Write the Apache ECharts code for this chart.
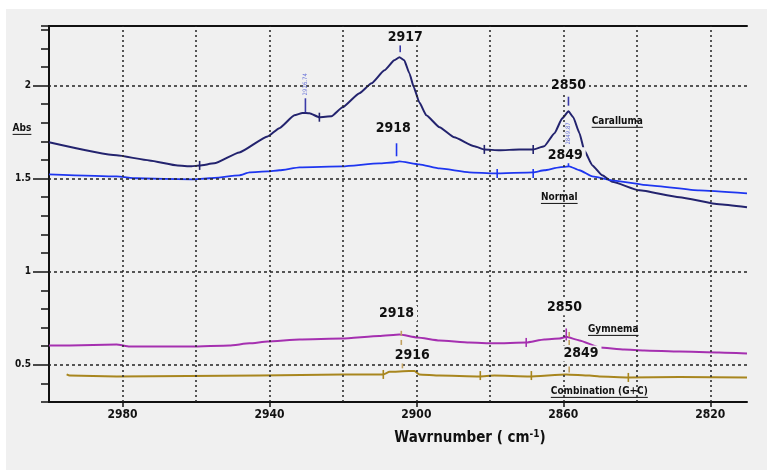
<!DOCTYPE html>
<html>
<head>
<meta charset="utf-8">
<script src="https://cdn.jsdelivr.net/npm/echarts@6/dist/echarts.min.js"></script>
<style>
html, body { margin: 0; padding: 0; background: #f0f0f0; }
#chart { width: 767px; height: 470px; }
</style>
</head>
<body>
<div id="chart"></div>
<script>
// wavenumber (cm-1), absorbance
var caralluma = [
    [3000, 1.695], [2981.6, 1.625], [2972.7, 1.598], [2965.0, 1.571], [2961.2, 1.566],
    [2959.0, 1.571], [2955.0, 1.582], [2948.2, 1.641], [2940.5, 1.727], [2937.3, 1.771],
    [2933.2, 1.840], [2931.0, 1.853], [2929.1, 1.851], [2926.4, 1.830], [2923.1, 1.835],
    [2920.1, 1.883], [2915.5, 1.959], [2912.2, 2.012], [2908.7, 2.082], [2906.0, 2.136],
    [2904.6, 2.152], [2903.3, 2.136], [2901.9, 2.066], [2900.7, 1.991], [2899.2, 1.910],
    [2897.3, 1.840], [2893.7, 1.776], [2889.7, 1.722], [2884.2, 1.674], [2881.5, 1.657],
    [2877.4, 1.652], [2872.0, 1.657], [2868.2, 1.657], [2865.2, 1.674], [2862.4, 1.744],
    [2860.3, 1.824], [2858.6, 1.862], [2857.3, 1.830], [2855.6, 1.744], [2854.3, 1.652],
    [2852.1, 1.571], [2849.4, 1.518], [2846.7, 1.483], [2839.3, 1.437], [2828.4, 1.400],
    [2817.6, 1.362], [2810, 1.346]
];
var normal = [
    [3000, 1.523], [2981.6, 1.512], [2976.2, 1.502], [2961.2, 1.496], [2956.3, 1.502],
    [2948.2, 1.518], [2945.4, 1.534], [2940.5, 1.539], [2937.3, 1.545], [2931.8, 1.561],
    [2920.1, 1.566], [2910.1, 1.582], [2906.0, 1.588], [2904.6, 1.593], [2899.2, 1.577],
    [2893.7, 1.555], [2885.6, 1.534], [2878.8, 1.528], [2868.2, 1.534], [2865.2, 1.545],
    [2861.1, 1.561], [2858.4, 1.566], [2855.6, 1.545], [2852.1, 1.512], [2846.7, 1.491],
    [2836.6, 1.464], [2823.0, 1.437], [2810, 1.421]
];
var gymnema = [
    [3000, 0.604], [2994.4, 0.604], [2981.6, 0.609], [2978.1, 0.598], [2961.2, 0.598],
    [2950.9, 0.604], [2945.4, 0.615], [2940.5, 0.625], [2931.8, 0.636], [2920.1, 0.641],
    [2910.1, 0.655], [2904.6, 0.663], [2899.7, 0.647], [2893.7, 0.631], [2885.6, 0.620],
    [2878.8, 0.615], [2870.1, 0.620], [2865.2, 0.636], [2861.1, 0.641], [2859.2, 0.650],
    [2855.6, 0.631], [2850.2, 0.593], [2843.4, 0.582], [2838.0, 0.577], [2828.4, 0.571],
    [2817.6, 0.566], [2810, 0.561]
];
var combination = [
    [2995.2, 0.448], [2994.4, 0.442], [2981.6, 0.437], [2942.7, 0.442], [2920.1, 0.448],
    [2909.0, 0.448], [2907.3, 0.462], [2902.0, 0.467], [2900.5, 0.467], [2899.2, 0.448],
    [2893.7, 0.442], [2882.9, 0.437], [2878.8, 0.442], [2869.3, 0.437], [2859.2, 0.448],
    [2852.9, 0.442], [2850.2, 0.437], [2842.3, 0.432], [2828.4, 0.434], [2810, 0.432]
];

// peak-pick markers sitting on each curve
var carallumaPicks = [[2959.0, 1.571], [2926.4, 1.830], [2881.5, 1.657], [2868.2, 1.657]];
var normalPicks = [[2878.0, 1.528], [2868.2, 1.528]];
var gymnemaPicks = [[2870.1, 0.620]];
var combinationPicks = [[2909.0, 0.448], [2882.6, 0.442], [2868.7, 0.442], [2842.3, 0.432]];

// leader ticks above peaks: [wavenumber, abs, length]
var carallumaLeaders = [[2904.4, 2.198, 7], [2858.6, 1.916, 9], [2930.2, 1.894, 14]];
var normalLeaders = [[2905.4, 1.655, 13], [2858.6, 1.582, 6]];
var gymnemaLeaders = [[2859.2, 0.663, 12]];
var combinationLeaders = [[2903.8, 0.497, 6], [2858.4, 0.475, 6], [2904.1, 0.669, 5], [2904.1, 0.620, 5], [2858.4, 0.663, 5], [2858.4, 0.620, 5]];

// peak wavenumber labels
var peakLabels = ['2917', '2918', '2850', '2849', '2918', '2916', '2850', '2849'];
var peakLabelAt = [
    [2903.0, 2.260], [2906.3, 1.771], [2858.6, 2.002], [2859.5, 1.626],
    [2905.4, 0.776], [2901.1, 0.550], [2859.7, 0.809], [2855.2, 0.561]
];
var smallLabels = ['2926.74', '2849.87'];
var smallLabelAt = [[2930.2, 2.007], [2858.6, 1.743]];

var seriesNames = ['Caralluma', 'Normal', 'Gymnema', 'Combination (G+C)'];
var seriesNameAt = [[2845.3, 1.808], [2861.1, 1.399], [2846.4, 0.690], [2850.2, 0.357]];

var xTickLabels = [2980, 2940, 2900, 2860, 2820];
var xGridLines = [2980, 2960, 2940, 2920, 2900, 2880, 2860, 2840, 2820];
var yTickLabels = [0.5, 1, 1.5, 2];

var FONT = '"DejaVu Sans Condensed", "Liberation Sans Narrow", "DejaVu Sans", sans-serif';
var INK = '#111';
var COLORS = ['#23236e', '#1e36f0', '#a530b0', '#a8861e'];

var chart = echarts.init(document.getElementById('chart'));

function pickMarks(points, color) {
    return points.map(function (p) {
        return { coord: [p[0], p[1]], symbol: 'rect', symbolSize: [1.6, 9], itemStyle: { color: color } };
    });
}
function leaderMarks(points, color) {
    return points.map(function (p) {
        return { coord: [p[0], p[1]], symbol: 'rect', symbolSize: [1.6, p[2]], itemStyle: { color: color } };
    });
}

function curve(name, data, color, width, marks) {
    return {
        name: name,
        type: 'line',
        data: data,
        symbol: 'none',
        smooth: 0.15,
        smoothMonotone: 'x',
        z: 3,
        lineStyle: { color: color, width: width, join: 'round' },
        itemStyle: { color: color },
        markPoint: { silent: true, animation: false, label: { show: false }, data: marks }
    };
}

var textMarks = peakLabels.map(function (t, i) {
    return {
        coord: peakLabelAt[i], symbol: 'rect', symbolSize: 1, itemStyle: { color: 'rgba(0,0,0,0)' },
        label: {
            show: true, position: 'inside', formatter: t, color: INK, fontFamily: FONT,
            fontWeight: 'bold', fontSize: 14, backgroundColor: '#f0f0f0', padding: [1, 3]
        }
    };
}).concat(smallLabels.map(function (t, i) {
    return {
        coord: smallLabelAt[i], symbol: 'rect', symbolSize: 1, itemStyle: { color: 'rgba(0,0,0,0)' },
        label: {
            show: true, position: 'inside', formatter: t, rotate: 90, color: '#6a74d8',
            fontFamily: FONT, fontSize: 6
        }
    };
}));

var gridMarks = xGridLines.map(function (v) {
    return { xAxis: v, lineStyle: { type: [2, 3] } };
}).concat(yTickLabels.map(function (v) {
    return { yAxis: v, lineStyle: { type: [3, 3] } };
}));

function plain(v) { return String(v); }

var option = {
    backgroundColor: '#f0f0f0',
    animation: false,
    grid: { left: 49, top: 26, width: 698, height: 376 },
    xAxis: [{
        type: 'value', min: 2810, max: 3000, inverse: true, position: 'bottom',
        axisLine: { show: true, onZero: false, lineStyle: { color: INK, width: 2 } },
        axisTick: { show: true, customValues: xTickLabels, length: 5, lineStyle: { color: INK, width: 1.5 } },
        axisLabel: { show: true, customValues: xTickLabels, formatter: plain, color: INK, fontFamily: FONT, fontWeight: 'bold', fontSize: 12, margin: 7 },
        splitLine: { show: false },
        name: 'Wavrnumber ( cm{sup|-1})',
        nameLocation: 'middle',
        nameGap: 27,
        nameTextStyle: {
            color: INK, fontFamily: FONT, fontWeight: 'bold', fontSize: 15, padding: [0, 0, 0, 144],
            rich: { sup: { fontSize: 10, fontWeight: 'bold', fontFamily: FONT, color: INK, verticalAlign: 'top', padding: [0, 0, 8, 0] } }
        }
    }, {
        type: 'value', min: 2810, max: 3000, inverse: true, position: 'top',
        axisLine: { show: true, onZero: false, lineStyle: { color: INK, width: 2 } },
        axisTick: { show: false }, axisLabel: { show: false }, splitLine: { show: false }
    }],
    yAxis: [{
        type: 'value', min: 0.3, max: 2.32, interval: 0.1, position: 'left',
        axisLine: { show: true, onZero: false, lineStyle: { color: INK, width: 2 } },
        axisTick: { show: true, length: 8, lineStyle: { color: INK, width: 1.5 } },
        axisLabel: { show: false },
        splitLine: { show: false }
    }, {
        type: 'value', min: 0.3, max: 2.32, position: 'left',
        axisLine: { show: false },
        axisTick: { show: true, customValues: yTickLabels, length: 16, lineStyle: { color: INK, width: 1.5 } },
        axisLabel: { show: true, customValues: yTickLabels, formatter: plain, margin: 18, color: INK, fontFamily: FONT, fontWeight: 'bold', fontSize: 10 },
        splitLine: { show: false }
    }],
    series: [
        {
            name: 'grid', type: 'line', data: [], silent: true, z: 1,
            markLine: {
                silent: true, animation: false, symbol: 'none', label: { show: false },
                lineStyle: { color: '#222', width: 1.5 },
                data: gridMarks
            }
        },
        curve(seriesNames[0], caralluma, COLORS[0], 2, pickMarks(carallumaPicks, COLORS[0]).concat(leaderMarks(carallumaLeaders, '#3a3aa8'))),
        curve(seriesNames[1], normal, COLORS[1], 1.8, pickMarks(normalPicks, COLORS[1]).concat(leaderMarks(normalLeaders, COLORS[1]))),
        curve(seriesNames[2], gymnema, COLORS[2], 2, pickMarks(gymnemaPicks, COLORS[2]).concat(leaderMarks(gymnemaLeaders, COLORS[2]))),
        curve(seriesNames[3], combination, COLORS[3], 2, pickMarks(combinationPicks, COLORS[3]).concat(leaderMarks(combinationLeaders, '#c0a060'))),
        {
            name: 'notes', type: 'line', data: [], silent: true, z: 5,
            markPoint: { silent: true, animation: false, label: { show: false }, data: textMarks }
        }
    ]
};
chart.setOption(option);

// underlined curve names and the "Abs" title, placed through the axes
var ctx = document.createElement('canvas').getContext('2d');
function textWidth(t, size) {
    ctx.font = 'bold ' + size + 'px ' + FONT;
    return ctx.measureText(t).width;
}
function underlinedText(t, x, y, size) {
    var w = textWidth(t, size);
    return [{
        type: 'text', x: x, y: y, z: 20,
        style: {
            text: t, fill: INK, font: 'bold ' + size + 'px ' + FONT,
            textAlign: 'center', textVerticalAlign: 'middle', align: 'center', verticalAlign: 'middle'
        }
    }, {
        type: 'line', z: 20,
        shape: { x1: x - w / 2, y1: y + size / 2 + 1, x2: x + w / 2, y2: y + size / 2 + 1 },
        style: { stroke: INK, lineWidth: 1 }
    }];
}

var graphics = [
    { type: 'rect', shape: { x: 0, y: 0, width: 767, height: 9 }, style: { fill: '#ffffff' }, z: 0 },
    { type: 'rect', shape: { x: 0, y: 0, width: 6, height: 470 }, style: { fill: '#ffffff' }, z: 0 }
];
seriesNames.forEach(function (n, i) {
    var p = chart.convertToPixel({ xAxisIndex: 0, yAxisIndex: 0 }, seriesNameAt[i]);
    graphics = graphics.concat(underlinedText(n, p[0], p[1], 10));
});
var absY = chart.convertToPixel({ yAxisIndex: 0 }, 1.77);
graphics = graphics.concat(underlinedText('Abs', 22, absY, 10));

chart.setOption({ graphic: graphics });
</script>
</body>
</html>
